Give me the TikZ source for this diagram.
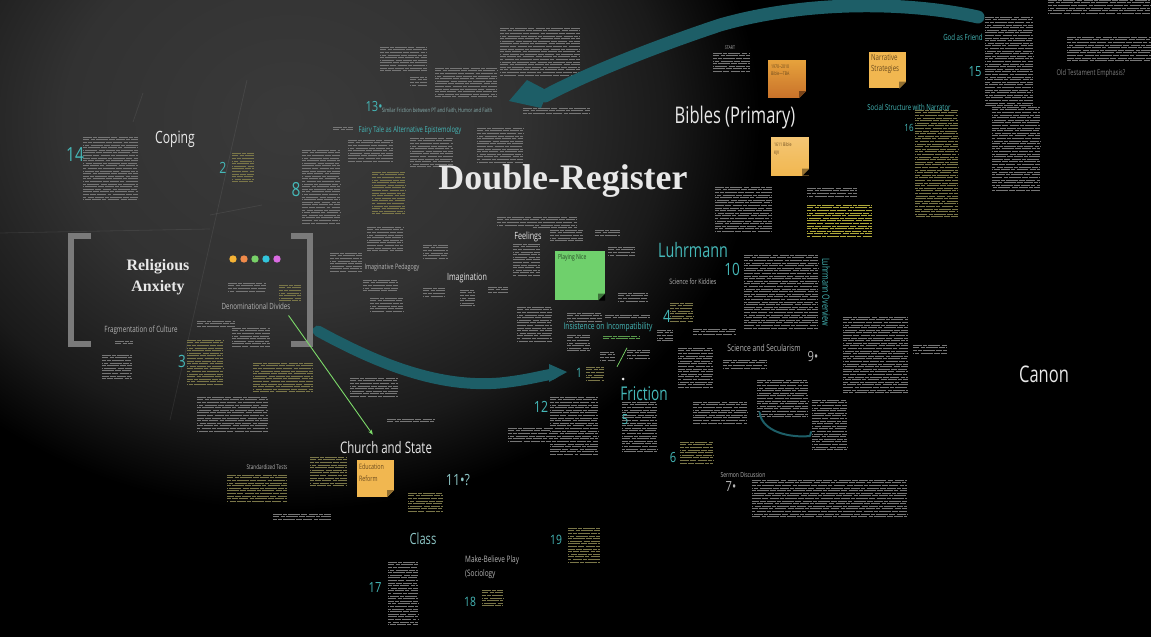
\documentclass[tikz,border=0pt]{standalone}
\usepackage{fontspec}
\setmainfont{Open Sans}
\newfontfamily\slabfont{Liberation Serif}
\usepackage{graphicx}
\usetikzlibrary{arrows.meta}
\definecolor{boardhi}{HTML}{3A3A3A}
\definecolor{board}{HTML}{323232}
\definecolor{boarddim}{HTML}{1A1A1A}
\definecolor{chalk}{HTML}{E8E8E8}
\definecolor{chalkdim}{HTML}{B4B4B4}
\definecolor{tealink}{HTML}{1D5E67}
\definecolor{tealtext}{HTML}{45B8B8}
\definecolor{tealpale}{HTML}{8CC4C4}
\definecolor{framegray}{HTML}{7A7A7A}
\definecolor{noteyel}{HTML}{F1B750}
\definecolor{noteorgtop}{HTML}{E6A23C}
\definecolor{noteorgbot}{HTML}{C9722A}
\definecolor{notegrn}{HTML}{6FD06C}
\definecolor{notetext}{HTML}{6A4A1E}
\definecolor{txtgray}{HTML}{767676}
\definecolor{txtolive}{HTML}{7A7648}
\definecolor{txtyel}{HTML}{B0A93A}
\definecolor{greenln}{HTML}{7DDB6A}
\definecolor{dotA}{HTML}{F5B335}
\definecolor{dotB}{HTML}{F08A4A}
\definecolor{dotC}{HTML}{78D168}
\definecolor{dotD}{HTML}{32C5DC}
\definecolor{dotE}{HTML}{DA6BE2}
\pgfdeclareradialshading{boardglow}{\pgfpoint{0bp}{0bp}}{color(0bp)=(boardhi); color(12bp)=(board); color(20bp)=(boarddim); color(25bp)=(black); color(50bp)=(black)}
\newcommand{\hand}[1]{\scalebox{.72}[1]{#1}}
\newcommand{\txtblock}[5]{\foreach \k in {0,2.6,...,#4} {\draw[#5, line width=.5pt, dash pattern=on 9pt off 1.2pt on 4pt off 1.2pt on 12pt off 1.2pt on 6pt off 1.2pt, dash phase=\k pt] (#1,#2+\k) -- ++(#3,0);}}
\tikzset{
  chalkhead/.style={text=chalk, inner sep=0pt, font=\fontsize{#1}{#1}\selectfont},
  tealhead/.style={text=tealtext, inner sep=0pt, font=\fontsize{#1}{#1}\selectfont},
  chalklbl/.style={text=chalkdim, inner sep=0pt, font=\fontsize{#1}{#1}\selectfont},
  teallbl/.style={text=tealtext, inner sep=0pt, font=\fontsize{#1}{#1}\selectfont},
  slab/.style={text=chalk, inner sep=0pt, font=\slabfont\bfseries\fontsize{#1}{#1}\selectfont},
  stickynote/.style={minimum size=#1, inner sep=0pt},
  notetxt/.style={text=notetext, inner sep=0pt, anchor=north west, align=left},
  tealstroke/.style={draw=tealink, line cap=round, line join=round},
  greenline/.style={draw=greenln, line width=.9pt},
  scratch/.style={draw=white, opacity=.07, line width=.8pt},
  blkg/.style={color=txtgray},
  blko/.style={color=txtolive},
  blky/.style={color=txtyel},
  blkn/.style={color=greenln!70!black},
  frame/.style={draw=framegray, line width=6pt}
}
\begin{document}
\begin{tikzpicture}[x=1bp, y=-1bp]
\useasboundingbox (0,0) rectangle (1151,637);
% board
\fill[black] (0,0) rectangle (1151,637);
\begin{scope}
\clip (0,0) rectangle (1151,637);
\shade[shading=boardglow] (290,120) ellipse (470 and 390);
\end{scope}
\draw[scratch] (247,80) -- (170,420);
\draw[scratch] (0,233) -- (210,229);
\draw[scratch] (143,93) -- (133,122);
\draw[scratch] (210,215) -- (262,205);

% small text blocks
\foreach \x/\y/\w/\h/\c in {83/137/55/65/blkg, 232/153/22/30/blko, 302/150/38/75/blkg, 333/127/20/5/blkg,
  348/140/45/22/blkg, 372/172/33/42/blko, 367/227/36/25/blkg, 330/253/32/20/blkg, 363/280/35/13/blkg,
  370/298/33/15/blkg, 423/245/25/15/blkg, 228/283/38/9/blkg, 279/285/22/17/blko, 115/341/18/4/blkg,
  102/355/30/25/blkg, 187/340/36/45/blko, 232/328/38/19/blkg, 197/321/38/6/blkg, 253/363/60/30/blko,
  197/397/71/35/blkg, 227/475/60/27/blko, 273/514/58/7/blkg, 350/378/48/19/blkg, 387/419/48/4/blkg,
  310/457/37/30/blko, 408/493/35/20/blko, 388/562/30/65/blkg, 482/590/21/17/blko, 508/428/42/14/blkg,
  550/397/48/58/blkg, 568/528/32/35/blko, 586/367/18/15/blko, 517/307/35/35/blkg, 567/313/35/9/blkg,
  605/315/45/5/blkg, 567/335/23/17/blkg, 600/352/15/8/blkg, 627/350/23/10/blkg, 618/293/30/10/blkg,
  693/329/43/6/blkg, 670/303/23/20/blko, 657/330/16/13/blkg, 678/348/35/40/blkg, 622/402/35/50/blkg,
  693/402/54/21/blkg, 680/442/33/23/blko, 723/360/44/8/blkg, 744/255/74/75/blkg, 843/317/65/76/blkg,
  913/345/34/8/blkg, 757/380/51/37/blkg, 812/400/35/50/blkg, 752/480/155/38/blkg, 713/53/37/20/blkg,
  715/187/57/46/blkg, 807/188/50/10/blkg, 807/205/65/33/blky, 915/110/43/107/blko, 985/17/48/90/blkg,
  992/107/48/85/blkg, 1048/0/102/15/blkg, 1067/37/84/25/blkg, 380/47/47/25/blkg, 435/68/62/29/blkg,
  410/77/17/10/blkg, 500/28/80/49/blkg, 523/108/67/7/blkg, 410/138/43/30/blkg, 477/128/46/35/blkg,
  497/217/36/10/blkg, 533/217/44/13/blkg, 595/230/25/7/blkg, 513/244/27/33/blkg, 550/230/33/13/blkg,
  423/288/22/9/blkg, 460/290/15/17/blkg, 488/287/20/6/blkg, 608/247/27/10/blkg, 603/336/37/4/blkn}
  {\txtblock{\x}{\y}{\w}{\h}{\c}}

% strokes
\coordinate (bibstart) at (978,17);
\coordinate (bibtip) at (545,96);
\draw[tealstroke, line width=13pt] (bibstart) .. controls (900,0) and (800,2) .. (720,25) .. controls (660,45) and (590,72) .. (bibtip);
\fill[tealink] (509,101) -- (527,80) -- (548,91) -- (541,108) -- cycle;
\coordinate (anxout) at (318,331);
\coordinate (fricin) at (553,374);
\draw[tealstroke, line width=11pt] (anxout) .. controls (380,365) and (440,388) .. (500,383) .. controls (528,380) and (540,376) .. (fricin);
\fill[tealink] (549,364) -- (567,372) -- (549,382) -- cycle;

% religious anxiety frame
\draw[frame] (91,236) -- (71,236) -- (71,344) -- (91,344);
\draw[frame] (291,236) -- (310,236) -- (310,344) -- (291,344);
\foreach \c [count=\i] in {dotA,dotB,dotC,dotD,dotE} \fill[\c] (222+11*\i,259) circle (3.7);

% headings
\node[slab=36] (dreg) at (563,181) {Double-Register};
\node[text=chalk, inner sep=0pt, align=center, font=\slabfont\bfseries\fontsize{16}{21}\selectfont] (anxiety) at (158,277) {Religious\\Anxiety};
\node[chalkhead=17] (coping) at (175,139) {\hand{Coping}};
\node[chalkhead=23] (bibles) at (735,118) {\hand{Bibles (Primary)}};
\node[chalkhead=23] (canon) at (1044,374) {\hand{Canon}};
\node[chalkhead=16] (church) at (386,448) {\hand{Church and State}};
\node[chalkhead=10] (imagin) at (467,278) {\hand{Imagination}};
\node[chalkhead=10] (feel) at (528,237) {\hand{Feelings}};
\node[tealhead=20] (luhr) at (693,250) {\hand{Luhrmann}};
\node[tealhead=19] (frict) at (644,394) {\hand{Friction}};
\node[tealhead=15.5, text=tealpale] (class) at (423,539) {\hand{Class}};

% small labels
\node[chalklbl=8.6] (divides) at (256,306) {\hand{Denominational Divides}};
\node[chalklbl=8.7] (fragment) at (141,330) {\hand{Fragmentation of Culture}};
\node[chalklbl=7.5] (imped) at (392,268) {\hand{Imaginative Pedagogy}};
\node[chalklbl=7.5] (kiddies) at (693,282) {\hand{Science for Kiddies}};
\node[chalklbl=9.4] (secular) at (764,348) {\hand{Science and Secularism}};
\node[chalklbl=6.5] (stdtests) at (267,467) {\hand{Standardized Tests}};
\node[chalklbl=7] (sermon) at (743,475) {\hand{Sermon Discussion}};
\node[chalklbl=9, anchor=west] (makeb) at (465,560) {\hand{Make-Believe Play}};
\node[chalklbl=9, anchor=west] (sociol) at (465,574) {\hand{(Sociology}};
\node[chalklbl=8, text=gray] (otemph) at (1091,73) {\hand{Old Testament Emphasis?}};
\node[chalklbl=6, text=tealpale!70!gray] (simfric) at (437,111) {\hand{Similar Friction between PT and Faith, Humor and Faith}};
\node[chalklbl=5] (start) at (730,48) {\hand{START}};
\node[teallbl=8.2] (fairy) at (410,130) {\hand{Fairy Tale as Alternative Epistemology}};
\node[teallbl=8.4] (socstr) at (909,107) {\hand{Social Structure with Narrator}};
\node[teallbl=8.5] (godfr) at (963,37) {\hand{God as Friend}};
\node[teallbl=9.3] (insist) at (608,327) {\hand{Insistence on Incompatibility}};
\node[teallbl=10, rotate=-90] (lover) at (826,292) {\hand{Luhrmann Overview}};

% numbers
\foreach \n/\px/\py/\s/\t in {n14/75/155/19.5/14, n2/223/168/15.5/2, n8/296/190/19.5/8, n13/374/107/14/13•,
  n3/182/361/17/3, n15/975/72/14/15, n16/909/128/10/16, n10/732/269/17/10, n4/667/316/17/4,
  n1/579/373/13/1, n12/541/407/15.5/12, n5/625/420/14/5, n6/673/458/14/6, n17/375/588/14/17,
  n18/470/602/13/18, n19/556/540/13/19}
  \node[teallbl=\s] (\n) at (\px,\py) {\scalebox{.8}[1]{\t}};
\node[teallbl=15.5, text=tealpale] (n11) at (458,480) {\scalebox{.8}[1]{11•?}};
\node[chalklbl=14] (n9) at (813,357) {\scalebox{.8}[1]{9•}};
\node[chalklbl=14] (n7) at (731,487) {\scalebox{.8}[1]{7•}};
\fill[chalk] (623,379) circle (1.5);

% sticky notes
\node[stickynote=38, top color=noteorgtop, bottom color=noteorgbot] (tba) at (787,79) {};
\node[stickynote=37, fill=noteyel] (narr) at (887.5,70) {};
\node[stickynote=38, top color=noteyel!80!white, bottom color=noteyel] (kjv) at (790,156.5) {};
\node[stickynote=50, fill=notegrn] (nice) at (580,275.5) {};
\node[stickynote=37, fill=noteyel] (reform) at (375.5,478.5) {};
\foreach \n/\c in {tba/noteorgbot!60!black, narr/noteyel!60!black, kjv/noteyel!60!black, nice/notegrn!55!black, reform/noteyel!60!black} {
  \fill[black] ([xshift=-7bp]\n.south east) -- (\n.south east) -- ([yshift=7bp]\n.south east) -- cycle;
  \fill[\c] ([xshift=-7bp]\n.south east) -- ([yshift=7bp]\n.south east) -- ([xshift=-7bp,yshift=7bp]\n.south east) -- cycle;
}
\node[notetxt, font=\fontsize{5}{7}\selectfont] (tbatxt) at ([xshift=3bp,yshift=-5bp]tba.north west) {\hand{1970–2010}\\\hand{Bible—TBA}};
\node[notetxt, font=\fontsize{8.5}{11}\selectfont] (narrtxt) at ([xshift=2bp,yshift=-3bp]narr.north west) {\hand{Narrative}\\\hand{Strategies}};
\node[notetxt, font=\fontsize{5}{8}\selectfont] (kjvtxt) at ([xshift=3bp,yshift=-5bp]kjv.north west) {\hand{1611 Bible}\\\hand{KJV}};
\node[notetxt, text=notegrn!35!black, font=\fontsize{7}{8}\selectfont] (nicetxt) at ([xshift=3bp,yshift=-4bp]nice.north west) {\hand{Playing Nice}};
\node[notetxt, font=\fontsize{7.5}{12}\selectfont] (reformtxt) at ([xshift=2bp,yshift=-4bp]reform.north west) {\hand{Education}\\\hand{Reform}};

% connectors
\draw[greenline, -{Stealth[length=5pt, width=4pt]}] ([xshift=-2bp, yshift=-6bp]divides.south east) -- ([xshift=33bp, yshift=7bp]church.north west);
\draw[greenline, line width=.7pt] ([xshift=19bp, yshift=-16bp]insist.south) -- ([xshift=9bp, yshift=-35bp]insist.south);
\draw[tealstroke, line width=2pt] ([xshift=-6bp, yshift=60bp]sermon.north east) .. controls (762,432) and (790,438) .. (810,436) -- (811,432);
\end{tikzpicture}
\end{document}
